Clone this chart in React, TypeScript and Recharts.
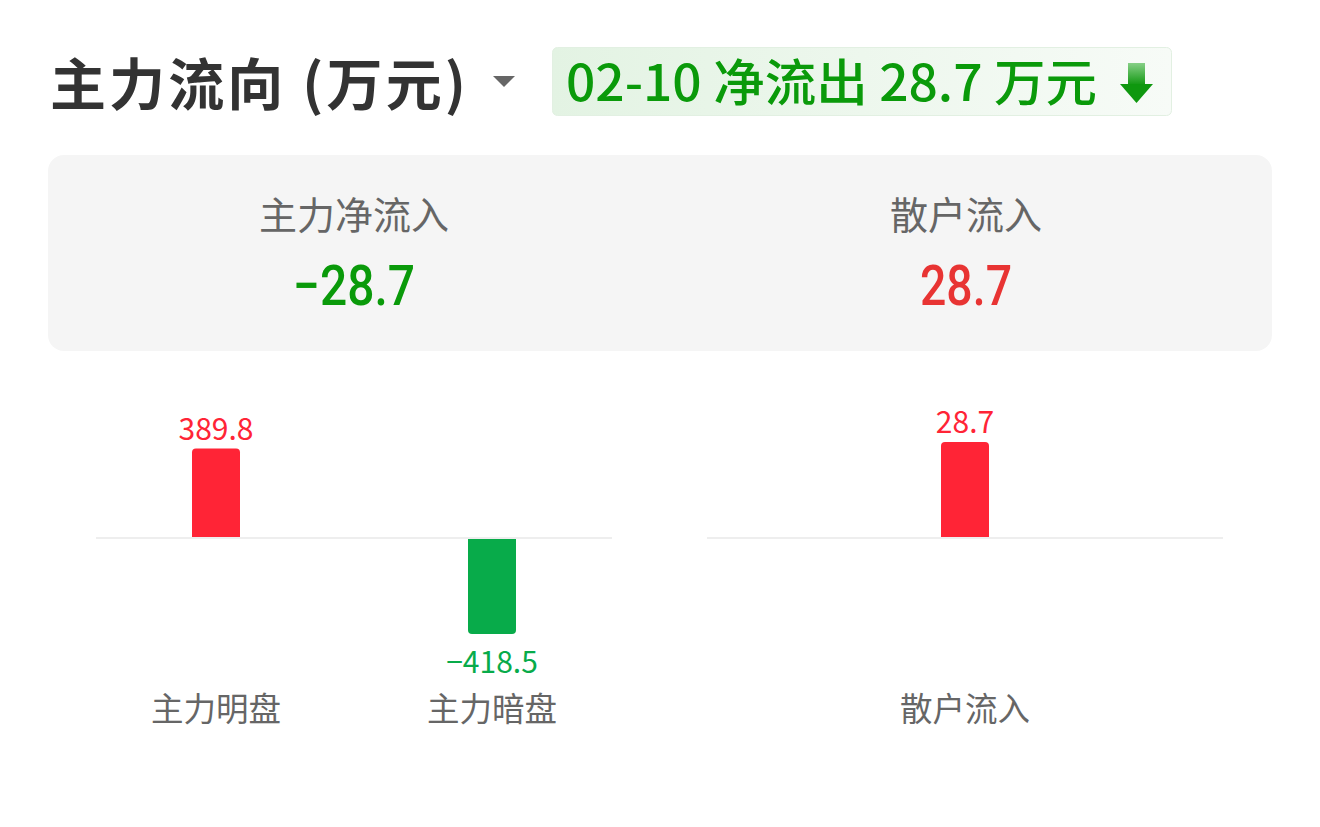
import React from 'react';
import { BarChart, Bar, XAxis, YAxis, ReferenceLine, LabelList, Cell } from 'recharts';

// Trading day shown in the header badge
const tradeDate = '02-10';

// Main-force flows (万元)
const mainCategories = ['主力明盘', '主力暗盘'];
const mainValues = [389.8, -418.5];

// Retail flows (万元)
const retailCategories = ['散户流入'];
const retailValues = [28.7];

// Summary card
const summaryLabels = ['主力净流入', '散户流入'];
const summaryValues = [-28.7, 28.7];

const UP = '#FF2436';
const DOWN = '#08AB4A';
const CARD_UP = '#E83433';
const CARD_DOWN = '#0A9A0A';
const CJK = "'Noto Sans CJK SC', 'Noto Sans', sans-serif";

const fmt = (v: number) => (v < 0 ? '\u2212' + Math.abs(v).toFixed(1) : v.toFixed(1));

const AxisTick = (props: any) => {
  const { x, y, payload } = props;
  return (
    <text x={x} y={y + 87} textAnchor="middle" fill="#666666" fontSize={32.5} fontFamily={CJK}>
      {payload.value}
    </text>
  );
};

const ValueLabel = (props: any) => {
  const { x, y, width, height, value } = props;
  const v = Number(value);
  const top = Math.min(y, y + height);
  const bottom = Math.max(y, y + height);
  const positive = v >= 0;
  return (
    <text
      x={x + width / 2}
      y={positive ? top - 9 : bottom + 39}
      textAnchor="middle"
      fill={positive ? UP : DOWN}
      fontSize={30}
      fontFamily={CJK}
    >
      {fmt(v)}
    </text>
  );
};

type FlowProps = {
  categories: string[];
  values: number[];
  left: number;
  marginLeft: number;
  marginRight: number;
  pad: number;
};

function FlowBars({ categories, values, left, marginLeft, marginRight, pad }: FlowProps) {
  const data = categories.map((name, i) => ({ name, value: values[i] }));
  const maxAbs = Math.max(...values.map((v) => Math.abs(v)));
  return (
    <div style={{ position: 'absolute', left, top: 391 }}>
      <BarChart
        width={600}
        height={360}
        data={data}
        margin={{ top: 51, right: marginRight, bottom: 0, left: marginLeft }}
      >
        <XAxis
          dataKey="name"
          axisLine={false}
          tickLine={false}
          tickSize={0}
          tickMargin={0}
          height={117}
          padding={{ left: pad, right: pad }}
          tick={<AxisTick />}
          interval={0}
        />
        <YAxis hide domain={[-maxAbs, maxAbs]} />
        <ReferenceLine y={0} stroke="#EEEEEE" strokeWidth={2} />
        <Bar dataKey="value" barSize={48} radius={[4, 4, 0, 0]} isAnimationActive={false}>
          {data.map((d, i) => (
            <Cell key={i} fill={d.value >= 0 ? UP : DOWN} />
          ))}
          <LabelList dataKey="value" content={<ValueLabel />} />
        </Bar>
      </BarChart>
    </div>
  );
}

export default function App() {
  const net = summaryValues[0];
  return (
    <div style={{ position: 'absolute', left: 0, top: 0, width: 1320, height: 827, background: '#FFFFFF' }}>
      <svg width={1320} height={827} style={{ position: 'absolute', left: 0, top: 0 }}>
        <defs>
          <linearGradient id="badgeBg" x1="0" y1="0" x2="1" y2="0">
            <stop offset="0%" stopColor="#E3F3E3" />
            <stop offset="100%" stopColor="#F7FBF7" />
          </linearGradient>
          <linearGradient id="arrowFill" x1="0" y1="0" x2="0" y2="1">
            <stop offset="0%" stopColor="#86CF86" />
            <stop offset="100%" stopColor="#0C960C" />
          </linearGradient>
        </defs>

        {/* Header */}
        <text
          x={50}
          y={105}
          fontSize={56}
          fontWeight={700}
          fill="#333333"
          fontFamily={CJK}
          textLength={416}
          lengthAdjust="spacing"
        >
          主力流向 (万元)
        </text>
        <polygon points="493,76 515,76 504,87" fill="#666666" />

        {/* Net flow badge */}
        <rect x={552.5} y={47.5} width={619} height={68} rx={5} fill="url(#badgeBg)" stroke="#E2F0E2" />
        <text
          x={566}
          y={101}
          fontSize={50}
          fontWeight={500}
          fill={CARD_DOWN}
          fontFamily={CJK}
          textLength={531}
          lengthAdjust="spacingAndGlyphs"
        >
          {`${tradeDate} ${net < 0 ? '净流出' : '净流入'} ${Math.abs(net).toFixed(1)} 万元`}
        </text>
        <rect x={1128} y={63} width={17} height={23} fill="url(#arrowFill)" />
        <polygon points="1120,84 1153,84 1136.5,103" fill="#0F980F" />

        {/* Summary card */}
        <rect x={48} y={155} width={1224} height={196} rx={16} fill="#F5F5F5" />
        {summaryLabels.map((label, i) => (
          <text
            key={label}
            x={354 + i * 612}
            y={229}
            textAnchor="middle"
            fontSize={38}
            fill="#666666"
            fontFamily={CJK}
          >
            {label}
          </text>
        ))}
        {summaryValues.map((v, i) => {
          const s = fmt(v);
          return (
            <text
              key={i}
              x={354 + i * 612}
              y={305}
              textAnchor="middle"
              fontSize={56}
              fontWeight={500}
              fill={v < 0 ? CARD_DOWN : CARD_UP}
              fontFamily="Roboto, 'Noto Sans', sans-serif"
              textLength={v < 0 ? 122 : 92}
              lengthAdjust="spacingAndGlyphs"
            >
              {s}
            </text>
          );
        })}
      </svg>

      <FlowBars categories={mainCategories} values={mainValues} left={60} marginLeft={36} marginRight={48} pad={-18} />
      <FlowBars categories={retailCategories} values={retailValues} left={660} marginLeft={47} marginRight={37} pad={0} />
    </div>
  );
}
